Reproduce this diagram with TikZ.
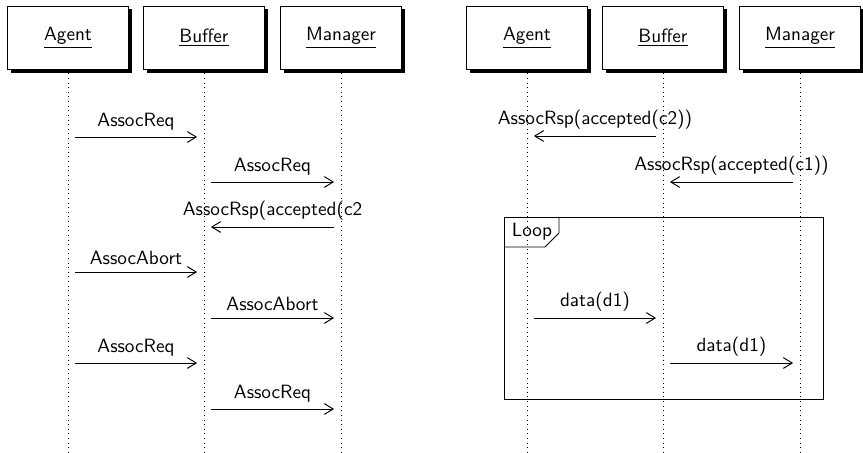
\documentclass[tikz,border=0pt]{standalone}
\usepackage{tikz}
\usetikzlibrary{shadows,arrows.meta}

\begin{document}
\begin{tikzpicture}[x=0.52pt,y=-0.52pt,font=\sffamily,>={Straight Barb[length=4.6pt,width=5.6pt]},
    participante/.style={draw,line width=0.6pt,fill=white,minimum width=63pt,minimum height=33pt,
      drop shadow={shadow xshift=1.6pt,shadow yshift=-1.6pt,fill=black,opacity=1}},
    vida/.style={dotted},
    mensaje/.style={->,line width=0.5pt,shorten >=3.6pt,shorten <=3.6pt}]
  \useasboundingbox (0,0) rectangle (863,453);
  \coordinate (fondo) at (0,453);

  % Participantes
  \node[participante] (ag1) at (68,38) {\underline{Agent}};
  \node[participante] (bu1) at (204,38) {\underline{Buffer}};
  \node[participante] (ma1) at (341,38) {\underline{Manager}};
  \node[participante] (ag2) at (527,38) {\underline{Agent}};
  \node[participante] (bu2) at (663,38) {\underline{Buffer}};
  \node[participante] (ma2) at (800,38) {\underline{Manager}};

  % Lineas de vida
  \foreach \p in {ag1,bu1,ma1,ag2,bu2,ma2}
    \draw[vida] ([yshift=-1.6pt]\p.south) -- (\p |- fondo);

  % Mensajes
  \foreach \de/\a/\y/\txt [count=\i] in {ag1/bu1/137/AssocReq, bu1/ma1/182/AssocReq,
      ma1/bu1/227/AssocRsp(accepted(c2, ag1/bu1/272/AssocAbort, bu1/ma1/318/AssocAbort,
      ag1/bu1/363/AssocReq, bu1/ma1/409/AssocReq,
      bu2/ag2/136/AssocRsp(accepted(c2)), ma2/bu2/182/AssocRsp(accepted(c1)),
      ag2/bu2/318/data(d1), bu2/ma2/363/data(d1)}
    \draw[mensaje] (\de |- 0,\y) -- node[above] (msg\i) {\txt} (\a |- 0,\y);

  % Bucle
  \draw (504,217) rectangle (823,399);
  \node (bucle) at (532,232) {Loop};
  \draw (504,247) -- (545,247) -- (559,233) -- (559,217);
\end{tikzpicture}
\end{document}
